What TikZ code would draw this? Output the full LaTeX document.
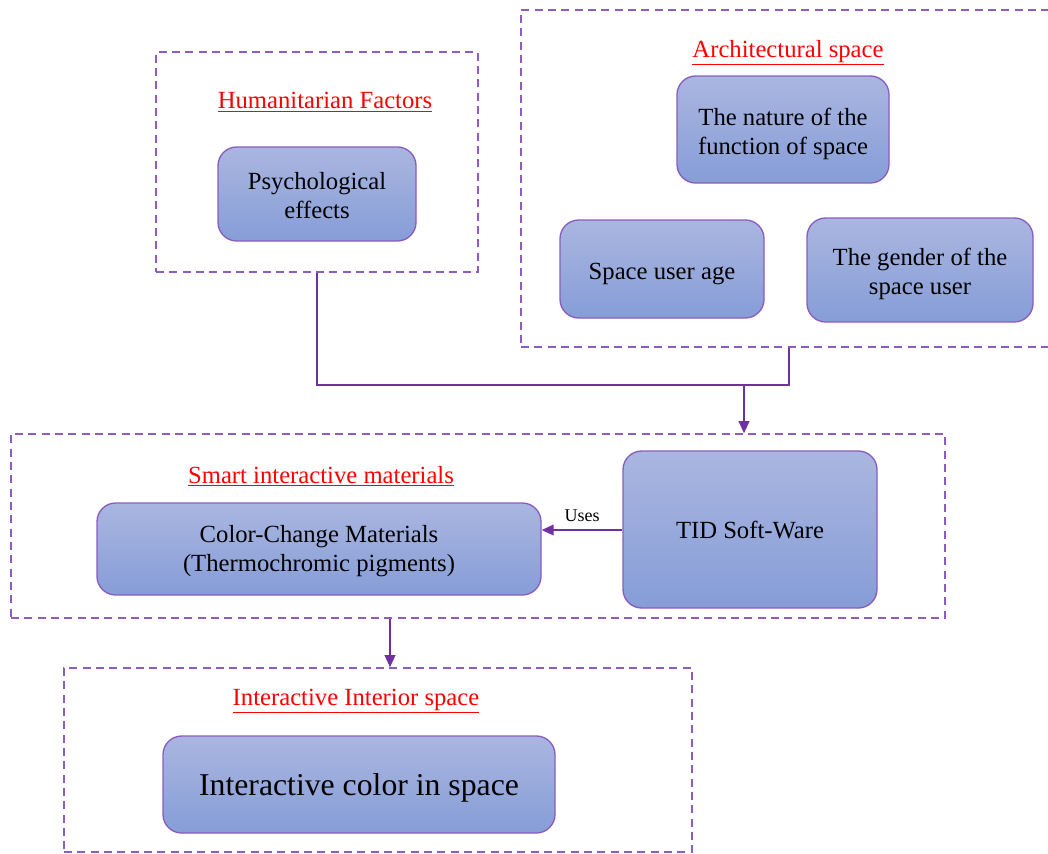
\documentclass[tikz,border=0pt]{standalone}
\usepackage{fontspec}
\setmainfont{Liberation Serif}
\usetikzlibrary{arrows.meta}
\definecolor{pur}{HTML}{7030A0}
\definecolor{dpur}{HTML}{8E5CC0}
\definecolor{bord}{HTML}{8A5CBE}
\definecolor{topc}{HTML}{AAB6E0}
\definecolor{botc}{HTML}{869DD7}
\newcommand\shiftdn[2]{\raisebox{-#1}[\height][\depth]{\begin{tabular}{@{}c@{}}#2\end{tabular}}}
\newcommand\redul[1]{\textcolor{red}{\underline{#1}}}
\tikzset{
 grp/.style={draw=dpur, dash pattern=on 6pt off 4pt, line width=1.2pt, inner sep=0pt},
 box/.style={draw=bord, line width=1pt, rounded corners=14pt, top color=topc, bottom color=botc, align=center, inner sep=2pt, font=\fontsize{18.5}{22}\selectfont},
 ttl/.style={text=red, inner sep=0pt, font=\fontsize{18.5}{22}\selectfont},
 conn/.style={draw=pur, line width=1.2pt},
 arr/.style={conn, -{Triangle[length=9pt,width=8pt]}}
}
\begin{document}
\begin{tikzpicture}[x=0.75pt,y=-0.75pt]
\useasboundingbox (0,0) rectangle (1048,853);
% group boxes
\node[grp, minimum width=241.5pt, minimum height=165pt] (hum) at (317,162) {};
\node[grp, minimum width=396.75pt, minimum height=252.75pt] (arch) at (785.5,178.5) {};
\node[grp, minimum width=700.5pt, minimum height=138pt] (smart) at (478,526) {};
\node[grp, minimum width=471pt, minimum height=138pt] (inter) at (378,760) {};
% titles
\node[ttl] (thum) at (325,102) {\redul{Humanitarian Factors}};
\node[ttl] (tarch) at (788,53) {\redul{Architectural space}};
\node[ttl] (tsmart) at (321,476) {\redul{Smart interactive materials}};
\node[ttl] (tinter) at (356,701) {\redul{Interactive Interior space}};
% boxes
\node[box, minimum width=148.5pt, minimum height=70.5pt] (psy) at (317,194) {\shiftdn{3pt}{Psychological\\effects}};
\node[box, minimum width=159pt, minimum height=80.25pt] (nat) at (783,129.5) {\shiftdn{3.5pt}{The nature of the\\function of space}};
\node[box, minimum width=153pt, minimum height=73.5pt] (age) at (662,269) {\shiftdn{3.5pt}{Space user age}};
\node[box, minimum width=169.5pt, minimum height=78pt] (gen) at (920,270) {\shiftdn{3pt}{The gender of the\\space user}};
\node[box, minimum width=333pt, minimum height=69pt] (cc) at (319,549) {\shiftdn{1.5pt}{Color-Change Materials\\(Thermochromic pigments)}};
\node[box, minimum width=190.5pt, minimum height=117.75pt] (tid) at (750,529.5) {\shiftdn{2.3pt}{TID Soft-Ware}};
\node[box, minimum width=294pt, minimum height=72.75pt, font=\fontsize{23.8}{28}\selectfont] (ic) at (359,784.5) {\shiftdn{3pt}{Interactive color in space}};
% connectors
\coordinate (jr) at (789,385);
\coordinate (ja) at (744,385);
\coordinate (jb) at (390,618);
\draw[conn] (hum.south) |- (jr) -- (jr |- arch.south);
\draw[arr] (ja) -- (ja |- smart.north);
\draw[arr] (tid.west |- 0,530) -- (cc.east |- 0,530) node[midway, above=2pt, font=\fontsize{13.5}{16}\selectfont, text=black] (uses) {Uses};
\draw[arr] (jb |- smart.south) -- (jb |- inter.north);
\end{tikzpicture}
\end{document}
